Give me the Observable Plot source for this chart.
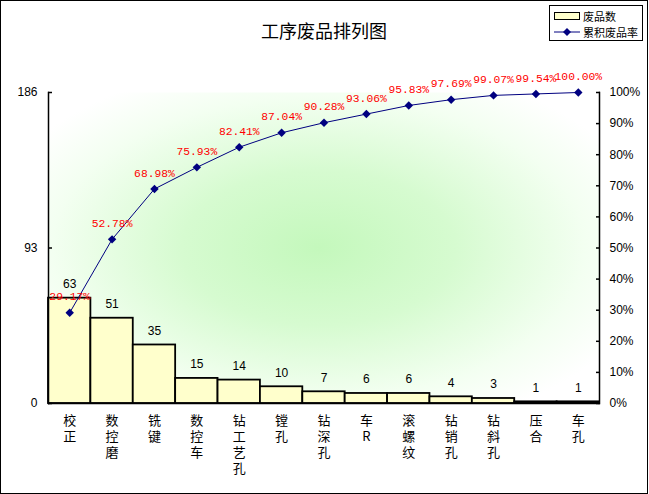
<!DOCTYPE html>
<html>
<head>
<meta charset="utf-8">
<script src="https://cdn.jsdelivr.net/npm/d3@7"></script>
<script src="https://cdn.jsdelivr.net/npm/@observablehq/plot@0.6"></script>
<style>
  html, body { margin: 0; padding: 0; background: #fff; }
  #wrap { position: relative; width: 649px; height: 494px; overflow: hidden; }
  #border { position: absolute; left: 0; top: 0; width: 648px; height: 494px; box-sizing: border-box; border: 1px solid #000; pointer-events: none; }
  #legend { position: absolute; left: 549px; top: 5px; width: 94px; height: 36px; box-sizing: border-box; border: 1px solid #000; background: #fff; font-family: "Noto Sans CJK SC", sans-serif; font-size: 11px; }
  .row { position: absolute; left: 4px; height: 14px; display: flex; align-items: center; }
  .row span { margin-left: 3px; line-height: 14px; }
</style>
</head>
<body>
<div id="wrap">
  <div id="chart"></div>
  <div id="legend">
    <div class="row" style="top:3px"><svg width="26" height="10"><rect x="0.5" y="1.5" width="25" height="7" fill="#ffffcc" stroke="#000"/></svg><span>废品数</span></div>
    <div class="row" style="top:19px"><svg width="26" height="10"><line x1="0" y1="5" x2="26" y2="5" stroke="#000080"/><path d="M13,1 L17,5 L13,9 L9,5 Z" fill="#000080"/></svg><span>累积废品率</span></div>
  </div>
  <div id="border"></div>
</div>
<script>
const title = "工序废品排列图";
const categories = ["校正","数控磨","铣键","数控车","钻工艺孔","镗孔","钻深孔","车R","滚螺纹","钻销孔","钻斜孔","压合","车孔"];
const counts = [63, 51, 35, 15, 14, 10, 7, 6, 6, 4, 3, 1, 1];
const cumPct = [29.17, 52.78, 68.98, 75.93, 82.41, 87.04, 90.28, 93.06, 95.83, 97.69, 99.07, 99.54, 100.00];
const leftTicks = [0, 93, 186];
const rightTicks = [0, 10, 20, 30, 40, 50, 60, 70, 80, 90, 100];
const yMax = 186;

const rows = categories.map((c, i) => ({cat: c, count: counts[i], cum: cumPct[i]}));
const pctToY = p => p / 100 * yMax;

const numFont = "Liberation Sans, Arial, sans-serif";

const svg = Plot.plot({
  width: 649,
  height: 494,
  marginLeft: 48,
  marginRight: 50,
  marginTop: 92,
  marginBottom: 91,
  style: {background: "transparent", fontFamily: numFont, fontSize: "12px", color: "#000"},
  x: {domain: categories, padding: 0, round: false, label: null},
  y: {domain: [0, yMax], label: null},
  marks: [
    Plot.frame({fill: "url(#bgGrad)", stroke: "none"}),
    Plot.barY(rows, {x: "cat", y: "count", fill: "#ffffcc", stroke: "#000", strokeWidth: 1.8}),
    Plot.ruleY([0], {stroke: "#000", strokeWidth: 1.5}),
    Plot.frame({anchor: "left", stroke: "#000", strokeWidth: 1.5}),
    Plot.frame({anchor: "right", stroke: "#000", strokeWidth: 1.5}),
    Plot.axisY(leftTicks, {anchor: "left", tickSize: -4, tickPadding: 15, fontSize: 12, fontFamily: numFont, strokeWidth: 1.5}),
    Plot.axisY(rightTicks.map(pctToY), {anchor: "right", tickSize: -4, tickPadding: 14, fontSize: 12, fontFamily: numFont, strokeWidth: 1.5,
      tickFormat: d => Math.round(d / yMax * 100) + "%"}),
    Plot.axisX({anchor: "bottom", tickSize: 0, tickPadding: 10, fontSize: 13, lineHeight: 16 / 13,
      fontFamily: "Noto Sans CJK SC, sans-serif", tickFormat: d => d.split("").join("\n")}),
    Plot.text(rows, {x: "cat", y: "count", text: d => String(d.count), dy: -14, fontSize: 12, fill: "#000", fontFamily: numFont}),
    Plot.line(rows, {x: "cat", y: d => pctToY(d.cum), stroke: "#000080", strokeWidth: 1}),
    Plot.dot(rows, {x: "cat", y: d => pctToY(d.cum), symbol: "diamond2", r: 3.8, fill: "#000080", stroke: "none"}),
    Plot.text(rows, {x: "cat", y: d => pctToY(d.cum), text: d => d.cum.toFixed(2) + "%", dy: -16, fill: "#ff0000", fontSize: 11.3, fontFamily: "Liberation Mono, DejaVu Sans Mono, monospace"}),
    Plot.text([title], {frameAnchor: "top", lineAnchor: "middle", dy: -60, fontSize: 18, fontFamily: "Noto Sans CJK SC, sans-serif", fill: "#000"})
  ]
});

const ns = "http://www.w3.org/2000/svg";
const defs = document.createElementNS(ns, "defs");
defs.innerHTML = `<radialGradient id="bgGrad" cx="0.49" cy="0.5" r="0.62" gradientUnits="objectBoundingBox">
  <stop offset="0" stop-color="#c4f8bc"/>
  <stop offset="0.4" stop-color="#d6fbd0"/>
  <stop offset="0.78" stop-color="#f3fff1"/>
  <stop offset="1" stop-color="#ffffff"/>
</radialGradient>`;
svg.insertBefore(defs, svg.firstChild);
document.getElementById("chart").appendChild(svg);
</script>
</body>
</html>
